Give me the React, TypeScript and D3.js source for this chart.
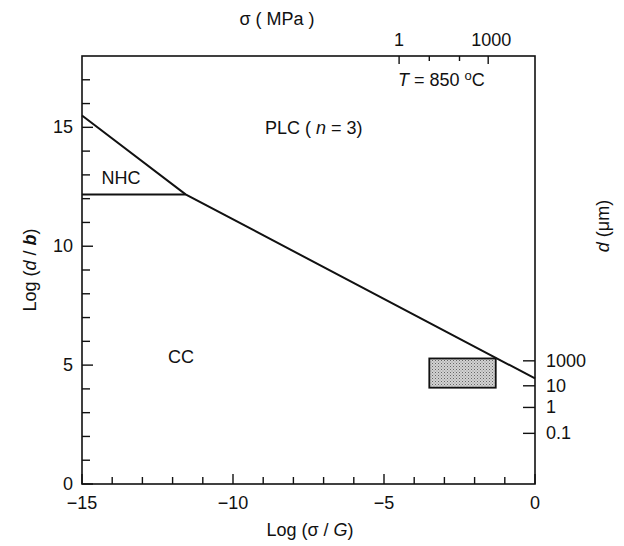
import React from "react";
import * as d3 from "d3";

const xMinorTicks = [-15, -14, -13, -12, -11, -10, -9, -8, -7, -6, -5, -4, -3, -2, -1, 0];
const xMajorTicks = [-15, -10, -5, 0];
const yMinorTicks = [0, 1, 2, 3, 4, 5, 6, 7, 8, 9, 10, 11, 12, 13, 14, 15, 16, 17];
const yMajorTicks = [0, 5, 10, 15];

const topTickPos = [-4.5, -3.5, -2.5, -1.55];
const topTickLabels = ["1", "", "", "1000"];

const rightTickPos = [5.18, 4.13, 3.22, 2.13];
const rightTickLabels = ["1000", "10", "1", "0.1"];

const plcBoundaryX = [-15, -11.57, 0];
const plcBoundaryY = [15.5, 12.18, 4.44];
const nhcBoundaryX = [-15, -11.57];
const nhcBoundaryY = [12.18, 12.18];

const boxX = [-3.5, -1.3];
const boxY = [4.05, 5.28];

const W = 624;
const H = 546;
const L = 82, R = 535, T = 56, B = 484;
const FONT = "'Liberation Sans', Arial, sans-serif";

export default function App() {
  const x = d3.scaleLinear().domain([-15, 0]).range([L, R]);
  const y = d3.scaleLinear().domain([0, 18]).range([B, T]);
  const line = d3.line<[number, number]>().x((d) => x(d[0])).y((d) => y(d[1]));
  const plc = plcBoundaryX.map((v, i) => [v, plcBoundaryY[i]] as [number, number]);
  const nhc = nhcBoundaryX.map((v, i) => [v, nhcBoundaryY[i]] as [number, number]);

  return (
    <svg width={W} height={H} style={{ position: "absolute", left: 0, top: 0, background: "#fff" }} fontFamily={FONT}>
      <defs>
        <pattern id="stip" width="3" height="3" patternUnits="userSpaceOnUse">
          <rect width="3" height="3" fill="#d2d2d2" />
          <rect x="0" y="0" width="1" height="1" fill="#666" />
          <rect x="1.5" y="1.5" width="1" height="1" fill="#8a8a8a" />
        </pattern>
      </defs>
      <rect x={0} y={0} width={W} height={H} fill="#fff" />

      {/* shaded box */}
      <rect
        x={x(boxX[0])}
        y={y(boxY[1])}
        width={x(boxX[1]) - x(boxX[0])}
        height={y(boxY[0]) - y(boxY[1])}
        fill="url(#stip)"
        stroke="#111"
        strokeWidth={1.8}
      />

      {/* frame */}
      <rect x={L} y={T} width={R - L} height={B - T} fill="none" stroke="#111" strokeWidth={1.6} />

      {/* bottom ticks */}
      {xMinorTicks.map((v) => (
        <line key={"bx" + v} x1={x(v)} x2={x(v)} y1={B} y2={B - (xMajorTicks.includes(v) ? 10 : 7)} stroke="#111" strokeWidth={1.4} />
      ))}
      {xMajorTicks.map((v) => (
        <text key={"bl" + v} x={x(v)} y={B + 25} fontSize={18} textAnchor="middle" fill="#111">
          {v < 0 ? "\u2212" + Math.abs(v) : String(v)}
        </text>
      ))}

      {/* left ticks */}
      {yMinorTicks.map((v) => (
        <line key={"ly" + v} x1={L} x2={L + (yMajorTicks.includes(v) ? 11 : 8)} y1={y(v)} y2={y(v)} stroke="#111" strokeWidth={1.4} />
      ))}
      {yMajorTicks.map((v) => (
        <text key={"ll" + v} x={L - 9} y={y(v) + 6} fontSize={18} textAnchor="end" fill="#111">
          {String(v)}
        </text>
      ))}

      {/* top ticks */}
      {topTickPos.map((v, i) => (
        <line key={"tt" + i} x1={x(v)} x2={x(v)} y1={T} y2={T + (topTickLabels[i] ? 8 : 5)} stroke="#111" strokeWidth={1.4} />
      ))}
      {topTickPos.map((v, i) =>
        topTickLabels[i] ? (
          <text key={"tl" + i} x={x(v) + (topTickLabels[i].length > 1 ? 3 : 0)} y={T - 10} fontSize={18} textAnchor="middle" fill="#111">
            {topTickLabels[i]}
          </text>
        ) : null
      )}

      {/* right ticks */}
      {rightTickPos.map((v, i) => (
        <line key={"rt" + i} x1={R} x2={R - 12} y1={y(v)} y2={y(v)} stroke="#111" strokeWidth={1.4} />
      ))}
      {rightTickLabels.map((s, i) => (
        <text key={"rl" + i} x={R + 11} y={y(rightTickPos[i]) + 6} fontSize={18} textAnchor="start" fill="#111">
          {s}
        </text>
      ))}

      {/* boundaries */}
      <path d={line(plc) || ""} fill="none" stroke="#111" strokeWidth={2} />
      <path d={line(nhc) || ""} fill="none" stroke="#111" strokeWidth={2} />

      {/* region labels */}
      <text x={121} y={184} fontSize={18} textAnchor="middle" fill="#111">NHC</text>
      <text x={265} y={134} fontSize={18} textAnchor="start" fill="#111">
        PLC ( <tspan fontStyle="italic">n</tspan> = 3)
      </text>
      <text x={181} y={363} fontSize={18} textAnchor="middle" fill="#111">CC</text>
      <text x={398} y={86} fontSize={18} textAnchor="start" fill="#111">
        <tspan fontStyle="italic">T</tspan> = 850 <tspan fontSize={13} dy={-6}>o</tspan><tspan dy={6}>C</tspan>
      </text>

      {/* axis titles */}
      <text x={277} y={25} fontSize={18} textAnchor="middle" fill="#111">σ ( MPa )</text>
      <text x={310} y={536} fontSize={18} textAnchor="middle" fill="#111">
        Log (σ / <tspan fontStyle="italic">G</tspan>)
      </text>
      <text transform={`translate(36,270) rotate(-90)`} fontSize={18} textAnchor="middle" fill="#111">
        Log (<tspan fontStyle="italic">d</tspan> / <tspan fontWeight="bold" fontStyle="italic">b</tspan>)
      </text>
      <text transform={`translate(609,226) rotate(-90)`} fontSize={18} textAnchor="middle" fill="#111">
        <tspan fontStyle="italic">d</tspan> (μm)
      </text>
    </svg>
  );
}
